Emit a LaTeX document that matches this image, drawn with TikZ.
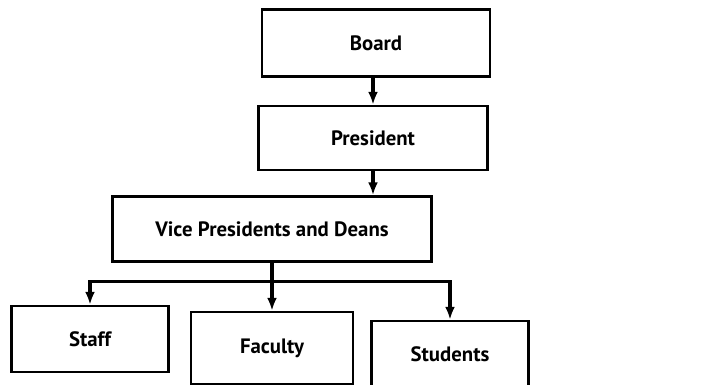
\documentclass[tikz,border=0pt]{standalone}
\usepackage{fontspec}
\setmainfont{PT Sans}
\usetikzlibrary{arrows.meta}
\begin{document}
\begin{tikzpicture}[x=0.025cm,y=-0.025cm,
  orgbox/.style={shape=rectangle,draw=black,line width=2pt,fill=white,inner sep=0pt,font=\fontsize{14.8}{17}\selectfont\bfseries},
  link/.style={line width=2.2pt,-{Latex[length=9pt,width=7pt]}}]
 \useasboundingbox (0,0) rectangle (717,385);
 \node (board) at (376,43) [orgbox,minimum width=228*0.025cm,minimum height=67*0.025cm] {Board};
 \node (pres) at (373,138) [orgbox,minimum width=229*0.025cm,minimum height=64*0.025cm] {President};
 \node (vp) at (272,229) [orgbox,minimum width=319*0.025cm,minimum height=65*0.025cm] {Vice Presidents and Deans};
 \node (staff) at (90,339) [orgbox,minimum width=157*0.025cm,minimum height=66*0.025cm] {Staff};
 \node (faculty) at (272,348) [orgbox,minimum width=162*0.025cm,minimum height=72*0.025cm] {Faculty};
 \node (students) at (450,354) [orgbox,minimum width=157*0.025cm,minimum height=66*0.025cm] {Students};
 \draw [link] (board.south -| pres.north) -- (pres.north);
 \draw [link] (pres.south) -- (pres.south |- vp.north);
 \draw [line width=2.2pt] (vp.south) -- ++(0,19) coordinate (split);
 \draw [link] (split) -| (staff.north);
 \draw [link] (split) -| (students.north);
 \draw [link] (split) -- (faculty.north);
\end{tikzpicture}
\end{document}
